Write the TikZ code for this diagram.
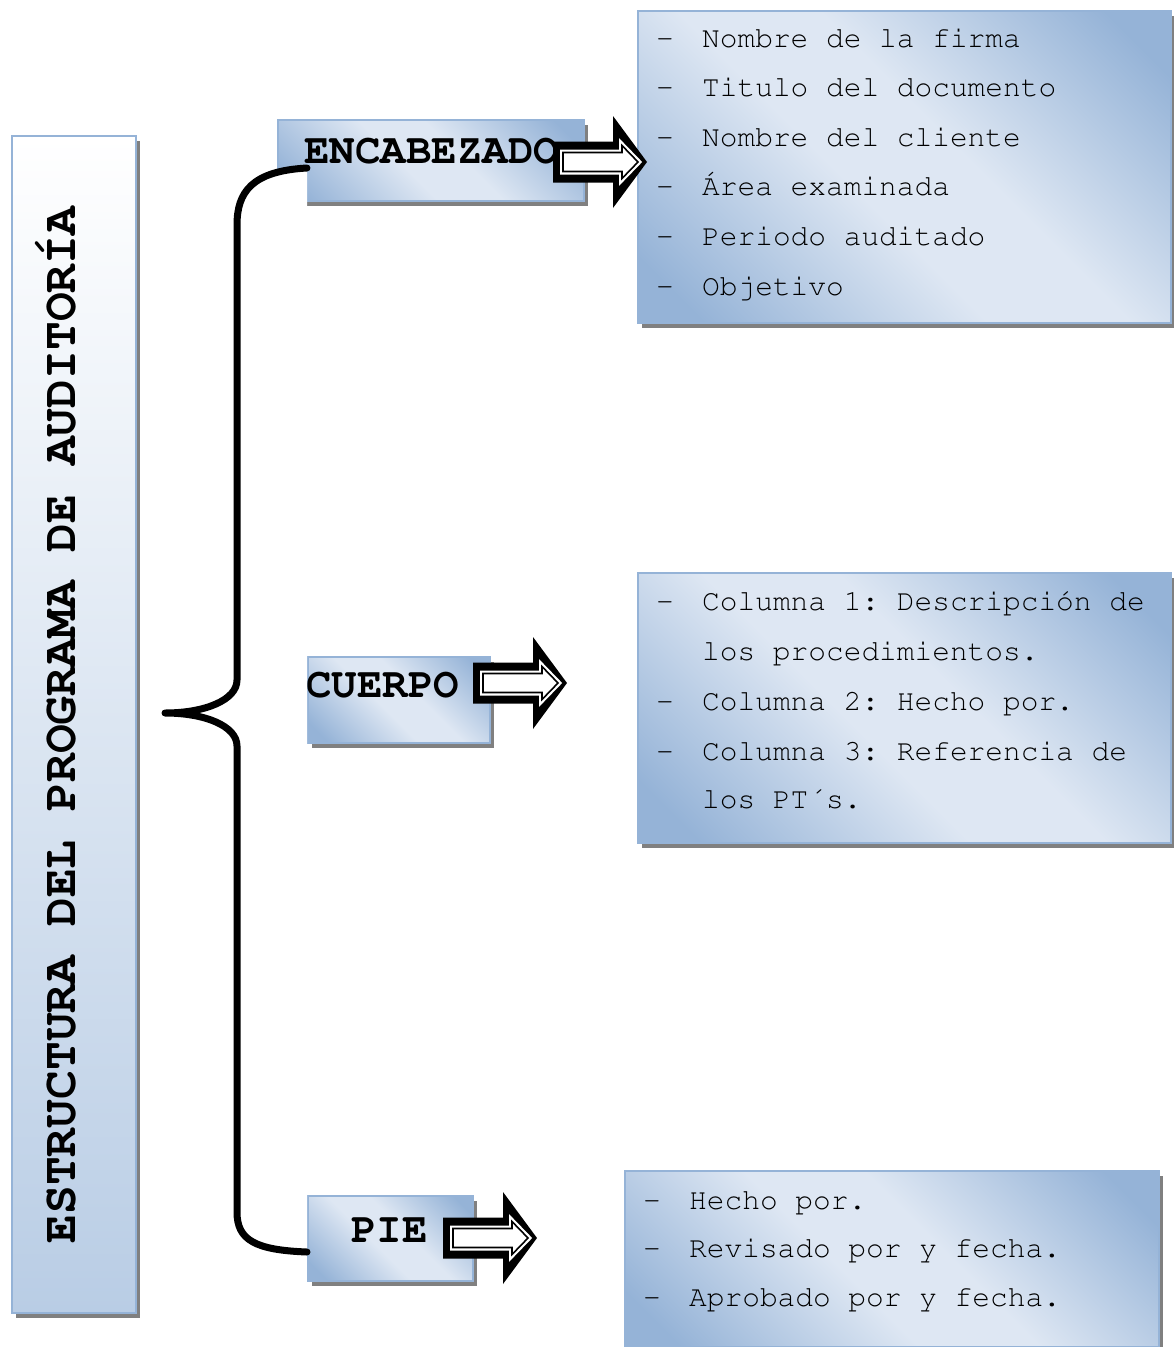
\documentclass[tikz,border=0pt]{standalone}
\usepackage[T1,TU]{fontenc}
\usetikzlibrary{shadows}

% Courier-style typewriter face for every text of the chart
\newcommand\typewriter{\fontencoding{T1}\fontfamily{pcr}\selectfont\frenchspacing}

\definecolor{edgeblue}{RGB}{149,179,215}
\definecolor{deepblue}{RGB}{149,179,215}
\definecolor{paleblue}{RGB}{222,231,243}
\definecolor{stemblue}{RGB}{185,205,229}
\definecolor{shadowgray}{RGB}{128,128,128}

% diagonal band: darker blue in two opposite corners, pale along the other diagonal
\pgfdeclarehorizontalshading{diagband}{100bp}{%
  color(0bp)=(deepblue); color(20bp)=(deepblue); color(44bp)=(paleblue);
  color(56bp)=(paleblue); color(80bp)=(deepblue); color(100bp)=(deepblue)}

\tikzset{
  boxshadow/.style={general shadow={fill=shadowgray, shadow xshift=4pt, shadow yshift=-5pt}},
  panel/.style={rectangle, draw=edgeblue, line width=1.5pt, inner sep=0pt,
    shade, shading=diagband, shading angle=45, boxshadow, anchor=north west},
  stem/.style={rectangle, draw=edgeblue, line width=1.5pt, inner sep=0pt,
    top color=white, bottom color=stemblue, boxshadow, anchor=north west},
  heading/.style={anchor=base, inner sep=0pt,
    font=\typewriter\bfseries\fontsize{42.5}{50}\selectfont},
  item/.style={anchor=base west, inner sep=0pt,
    font=\typewriter\fontsize{29.5}{35}\selectfont},
  brace/.style={line width=7pt, line cap=round, line join=round},
  pics/blockarrow/.style={code={
    \fill[black] (0,-20.5) -- (60,-20.5) -- (60,-46) -- (94,0) -- (60,46)
      -- (60,20.5) -- (0,20.5) -- cycle;
    \draw[white, line width=6pt, line join=miter] (10,-9.5) -- (69,-9.5)
      -- (69,-16.5) -- (85,0) -- (69,16.5) -- (69,9.5) -- (10,9.5) -- cycle;
    \filldraw[fill=white, draw=black, line width=1.6pt, line join=miter]
      (10,-9.5) -- (69,-9.5) -- (69,-16.5) -- (85,0) -- (69,16.5)
      -- (69,9.5) -- (10,9.5) -- cycle;
  }},
}

\begin{document}
\begin{tikzpicture}[x=1pt,y=-1pt]
\useasboundingbox (0,0) rectangle (1173,1347);

% boxes
\node[stem, minimum width=124pt, minimum height=1177pt] (stembox) at (11,135) {};
\node[panel, minimum width=306pt, minimum height=81pt] (enc) at (277,119) {};
\node[panel, minimum width=182pt, minimum height=86pt] (cue) at (307,656) {};
\node[panel, minimum width=165pt, minimum height=85pt] (pie) at (307,1195) {};
\node[panel, minimum width=533pt, minimum height=312pt] (list1) at (637,10) {};
\node[panel, minimum width=533pt, minimum height=270pt] (list2) at (637,572) {};
\node[panel, minimum width=534pt, minimum height=176pt] (list3) at (624,1170) {};

% curly brace joining the title to the three parts
\coordinate (bTop) at (307,168);
\coordinate (bTip) at (165,713);
\coordinate (bBot) at (307,1252);
\def\bracepath{(bTop) .. controls (252,171) and (237,192) .. (237,225)
  -- (237,680) .. controls (237,700) and (205,713) .. (bTip)
  .. controls (205,713) and (237,726) .. (237,746)
  -- (237,1212) .. controls (237,1240) and (255,1250) .. (bBot)}
\fill[white] \bracepath -- cycle;
\draw[brace] \bracepath;

% title and part labels
\node[rotate=90, anchor=base, inner sep=0pt,
  font=\typewriter\bfseries\fontsize{48}{56}\selectfont] (title) at (75,725)
  {ESTRUCTURA DEL PROGRAMA DE AUDITORÍA};
\node[heading] (encl) at (431.5,163) {ENCABEZADO};
\node[heading] (cuel) at (382.5,697) {CUERPO};
\node[heading] (piel) at (389.5,1242) {PIE};

% list of the header
\foreach \t [count=\i from 0] in {Nombre de la f{}irma, Titulo del documento,
    Nombre del cliente, Área examinada, Periodo auditado, Objetivo}{
  \node[item] (da-\i) at (656,{47+49.6*\i}) {-};
  \node[item] (ta-\i) at (702,{47+49.6*\i}) {\t};
}

% list of the body
\node[item] (db-0) at (656,610) {-};
\node[item] (tb-0) at (702,610) {Columna 1: Descripción de};
\node[item] (tb-1) at (702,660) {los procedimientos.};
\node[item] (db-2) at (656,710) {-};
\node[item] (tb-2) at (702,710) {Columna 2: Hecho por.};
\node[item] (db-3) at (656,760) {-};
\node[item] (tb-3) at (702,760) {Columna 3: Referencia de};
\node[item] (tb-4) at (702,808) {los PT\symbol{1}s.};

% list of the footer
\foreach \t [count=\i from 0] in {Hecho por., Revisado por y fecha.,
    Aprobado por y fecha.}{
  \node[item] (dc-\i) at (643,{1209+48.5*\i}) {-};
  \node[item] (tc-\i) at (689,{1209+48.5*\i}) {\t};
}

% block arrows
\pic at (553,162) {blockarrow};
\pic at (473,683) {blockarrow};
\pic at (443,1238) {blockarrow};
\end{tikzpicture}
\end{document}
